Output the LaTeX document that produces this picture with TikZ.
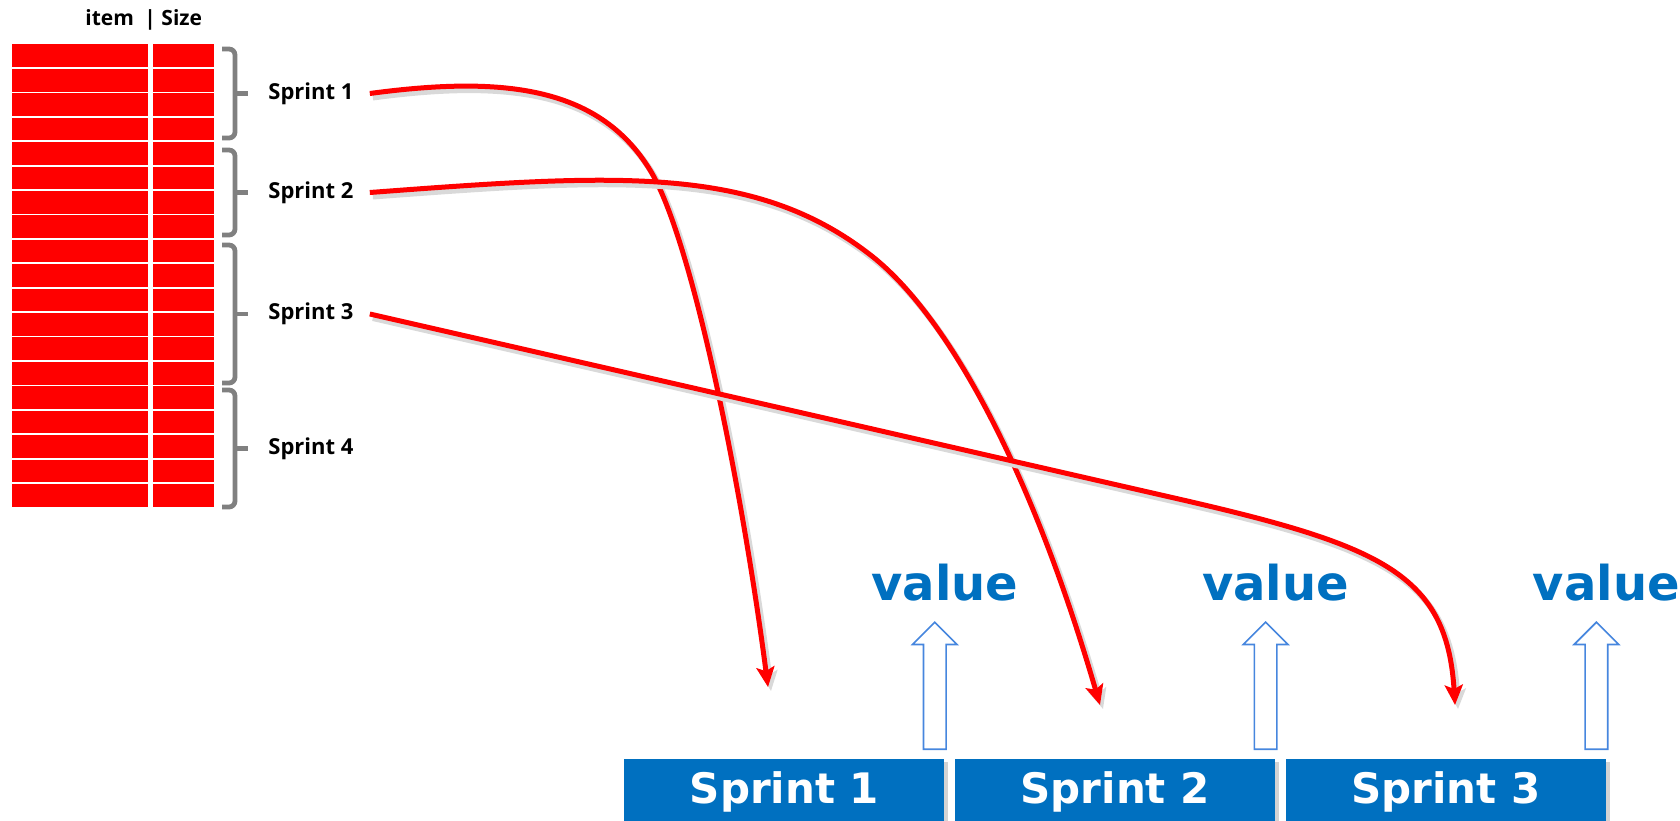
\documentclass[tikz,border=0pt]{standalone}
\usepackage{fontspec}
\setmainfont{DejaVu Sans}
\newfontfamily\labelfont{Open Sans}
\usetikzlibrary{positioning}
\usetikzlibrary{arrows.meta, shapes.arrows, shadows}
\definecolor{sprintblue}{RGB}{0,112,192}
\definecolor{hollowblue}{RGB}{70,134,222}
\definecolor{bracegray}{RGB}{128,128,128}

\begin{document}
\begin{tikzpicture}[
  x=0.5pt, y=-0.5pt,
  node distance=5pt,
  itemcell/.style={rectangle, fill=red, inner sep=0pt, minimum width=68pt, minimum height=11.35pt, anchor=north west},
  sizecell/.style={itemcell, minimum width=30.5pt},
  sprintbrace/.style={draw=bracegray, line width=2.4pt, rounded corners=3pt},
  sprintlabel/.style={font=\labelfont\bfseries\fontsize{11}{13}\selectfont, inner sep=0pt},
  flow/.style={draw=red, line width=2.5pt, -{Stealth[length=10pt, width=9pt, inset=2pt]},
    preaction={draw=black!15, line width=3pt, transform canvas={shift={(1.5pt,-2pt)}}}},
  sprintbox/.style={rectangle, fill=sprintblue, text=white, font=\bfseries\fontsize{21}{25}\selectfont, minimum width=160pt, minimum height=32pt, inner sep=0pt,
    drop shadow={shadow xshift=2pt, shadow yshift=-1.5pt, opacity=0.35}},
  valuetext/.style={text=sprintblue, font=\bfseries\fontsize{24}{28}\selectfont, inner sep=0pt},
  hollow/.style={single arrow, draw=hollowblue, fill=white, line width=0.8pt, rotate=90, inner xsep=0pt, inner ysep=5.25pt,
    single arrow head extend=5.5pt, single arrow tip angle=90, minimum height=63.5pt, anchor=west}
]
  \useasboundingbox (0,0) rectangle (1680,820);
  \clip (0,0) rectangle (1680,820);

  % Backlog
  \node[sprintlabel, anchor=west, font=\labelfont\bfseries\fontsize{10.5}{12}\selectfont] (header) at (85,20) {item\enspace| Size};
  \foreach \i in {0,...,18} {
    \node[itemcell] (item\i) at (12,44+24.42*\i) {};
    \node[sizecell, right=2pt of item\i] (size\i) {};
  }

  % Sprint groups
  \foreach \top/\bot/\n in {49/138/1, 150/235/2, 245/383/3, 390/507/4} {
    \pgfmathsetmacro\mid{(\top+\bot)/2}
    \draw[sprintbrace] (222,\top) -| (235,\bot) -- (222,\bot);
    \draw[sprintbrace] (235,\mid) -- (248,\mid);
    \node[sprintlabel, anchor=west] (lab\n) at (268,\mid) {Sprint \n};
  }

  % Delivery
  \coordinate (tip1) at (768,687);
  \coordinate (tip2) at (1100,705);
  \coordinate (tip3) at (1455,705);
  \draw[flow] ([xshift=8pt]lab1.east) .. controls (500,76) and (598,85) .. (650,170) .. controls (692,238) and (742,487) .. (tip1);
  \draw[flow] ([xshift=8pt]lab2.east) .. controls (617,174) and (756,164) .. (873,257) .. controls (943,313) and (1027,455) .. (tip2);
  \draw[flow] ([xshift=8pt]lab3.east) -- (1183,500) .. controls (1383,546) and (1447,575) .. (tip3);

  % Sprints
  \node[sprintbox, anchor=north west] (box1) at (624,759) {Sprint 1};
  \node[sprintbox, right=of box1] (box2) {Sprint 2};
  \node[sprintbox, right=of box2] (box3) {Sprint 3};

  \foreach \n in {1,2,3} {
    \node[valuetext, above=78.5pt of box\n.north east] (value\n) {value};
    \node[hollow] (lift\n) at ([xshift=-5pt,yshift=4.5pt]box\n.north east) {};
  }
\end{tikzpicture}
\end{document}
